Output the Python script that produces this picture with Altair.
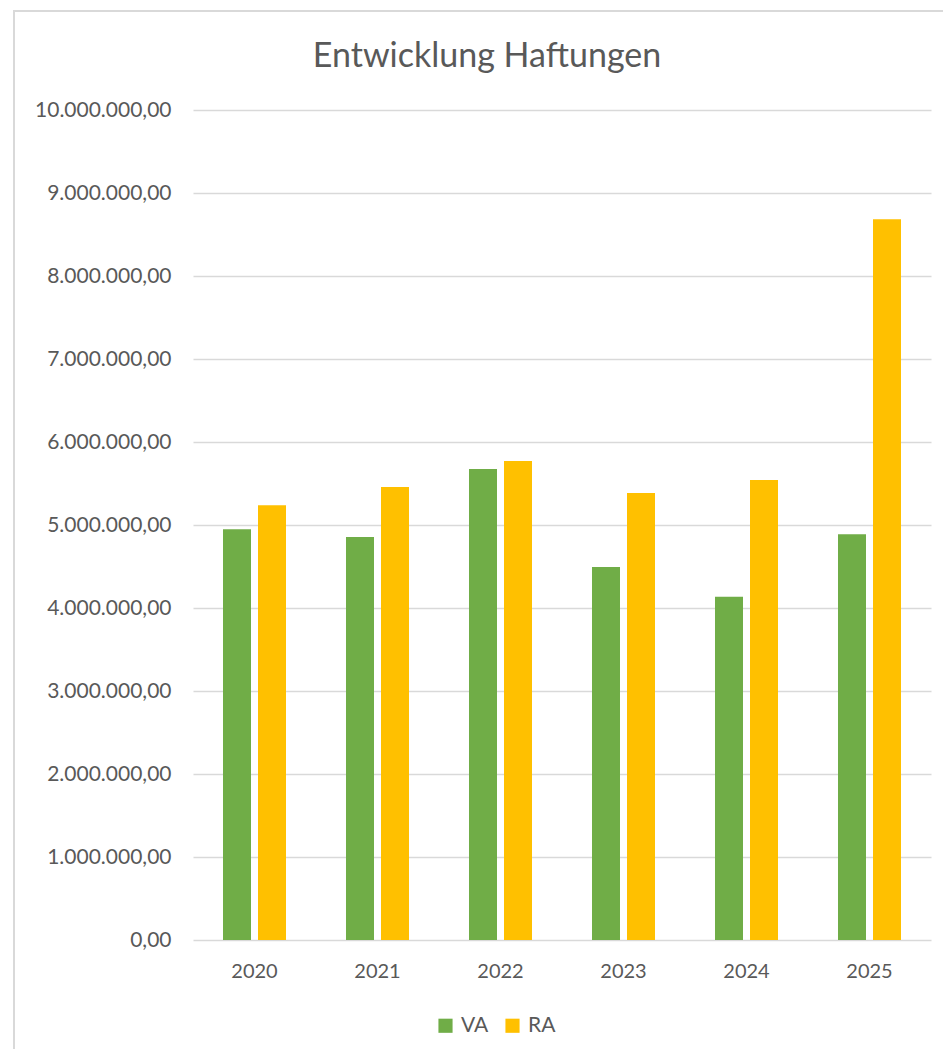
import altair as alt
import pandas as pd

years = ["2020", "2021", "2022", "2023", "2024", "2025"]
va_values = [4950000, 4855000, 5675000, 4495000, 4135000, 4888000]
ra_values = [5237000, 5458000, 5771000, 5386000, 5542000, 8683000]
series = ["VA", "RA"]
colors = ["#70AD47", "#FFC000"]
title_text = "Entwicklung Haftungen"

rows = []
for i, y in enumerate(years):
    rows.append({"Jahr": y, "Serie": "VA", "Wert": va_values[i]})
    rows.append({"Jahr": y, "Serie": "RA", "Wert": ra_values[i]})
df = pd.DataFrame(rows)

FONT = "Lato"
GREY = "#595959"
BORDER = "#d9d9d9"

bars = alt.Chart(df).mark_bar().encode(
    x=alt.X("Jahr:N", sort=years, title=None,
            scale=alt.Scale(paddingInner=0, paddingOuter=0),
            axis=alt.Axis(labelAngle=0, labelFont=FONT, labelFontSize=20, labelColor=GREY,
                          labelPadding=21, ticks=False, domain=False, grid=False)),
    xOffset=alt.XOffset("Serie:N", sort=series,
                        scale=alt.Scale(paddingInner=0.2, paddingOuter=0.857)),
    y=alt.Y("Wert:Q", title=None,
            scale=alt.Scale(domain=[0, 10000000], nice=False),
            axis=alt.Axis(values=list(range(0, 10000001, 1000000)), format=",.2f",
                          labelFont=FONT, labelFontSize=21, labelColor=GREY,
                          labelPadding=22, ticks=False, domain=False,
                          grid=True, gridColor=BORDER, gridWidth=1.5)),
    color=alt.Color("Serie:N", sort=series,
                    scale=alt.Scale(domain=series, range=colors),
                    legend=alt.Legend(title=None, orient="none", direction="horizontal",
                                      legendX=242, legendY=905,
                                      symbolType="square", symbolSize=200,
                                      symbolStrokeWidth=0, labelFont=FONT,
                                      labelFontSize=21, labelColor=GREY,
                                      columnPadding=13, labelOffset=5)),
)

frame_df = pd.DataFrame({"k": [0]})
left_border = alt.Chart(frame_df).mark_rule(color=BORDER, strokeWidth=2).encode(
    x=alt.value(-179), y=alt.value(-99), y2=alt.value(940))
top_border = alt.Chart(frame_df).mark_rule(color=BORDER, strokeWidth=2).encode(
    y=alt.value(-99), x=alt.value(-180), x2=alt.value(760))
title_mark = alt.Chart(frame_df).mark_text(
    font=FONT, fontSize=34, color=GREY, align="center", baseline="alphabetic"
).encode(x=alt.value(294), y=alt.value(-43), text=alt.value(title_text))

chart = alt.layer(left_border, top_border, title_mark, bars).properties(
    width=738,
    height=830,
    autosize=alt.AutoSizeParams(type="none"),
    padding={"left": 185, "top": 102, "right": 12, "bottom": 109},
).configure(
    locale=alt.Locale(number=alt.NumberLocale(decimal=",", thousands=".",
                                              grouping=[3], currency=["", " €"])),
).configure_view(stroke=None)

chart.save("out.html", embed_options={"renderer": "svg", "actions": False})
